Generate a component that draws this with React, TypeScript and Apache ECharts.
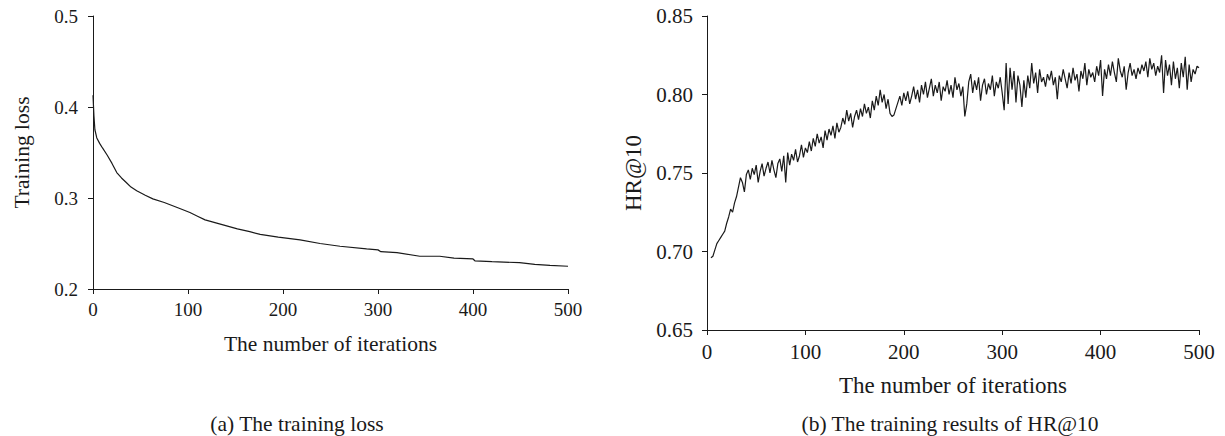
import React, { useEffect, useRef } from "react";
import * as echarts from "echarts";

// ---- Data ----
const xTicks = [0, 100, 200, 300, 400, 500];

// (a) training loss, read at selected iterations
const lossIter = [0, 1, 2, 4, 7, 10, 15, 20, 25, 30, 35, 40, 46, 55, 63, 75, 90, 102, 110, 118, 135, 152, 165, 176, 195, 218, 239, 260, 288, 300, 303, 320, 344, 365, 380, 400, 402, 420, 449, 465, 481, 500];
const lossValue = [0.413, 0.39, 0.375, 0.366, 0.36, 0.355, 0.347, 0.338, 0.328, 0.322, 0.317, 0.312, 0.308, 0.303, 0.299, 0.295, 0.289, 0.284, 0.28, 0.276, 0.271, 0.266, 0.263, 0.26, 0.257, 0.254, 0.25, 0.247, 0.244, 0.243, 0.241, 0.24, 0.236, 0.236, 0.234, 0.233, 0.231, 0.23, 0.229, 0.227, 0.226, 0.225];

// (b) HR@10, one value every 2 iterations starting at iteration 4
const hrStartIter = 4;
const hrStepIter = 2;
const hrValue = [
  0.696, 0.697, 0.701, 0.705, 0.707, 0.709, 0.711, 0.713, 0.718, 0.722,
  0.727, 0.725, 0.731, 0.735, 0.741, 0.747, 0.744, 0.738, 0.749, 0.752,
  0.746, 0.753, 0.749, 0.755, 0.744, 0.751, 0.756, 0.748, 0.753, 0.757,
  0.750, 0.758, 0.752, 0.747, 0.756, 0.759, 0.751, 0.761, 0.744, 0.763,
  0.755, 0.762, 0.758, 0.765, 0.757, 0.761, 0.768, 0.760, 0.766, 0.763,
  0.770, 0.764, 0.772, 0.767, 0.775, 0.769, 0.773, 0.766, 0.777, 0.771,
  0.778, 0.774, 0.780, 0.772, 0.782, 0.776, 0.779, 0.785, 0.781, 0.790,
  0.783, 0.788, 0.779, 0.786, 0.790, 0.784, 0.791, 0.786, 0.794, 0.788,
  0.792, 0.785, 0.796, 0.790, 0.799, 0.793, 0.803, 0.795, 0.800, 0.791,
  0.797, 0.788, 0.786, 0.787, 0.791, 0.795, 0.799, 0.793, 0.801, 0.796,
  0.802, 0.794, 0.799, 0.805, 0.797, 0.803, 0.795, 0.806, 0.800, 0.808,
  0.798, 0.804, 0.810, 0.799, 0.806, 0.801, 0.808, 0.796, 0.805, 0.802,
  0.809, 0.800, 0.806, 0.798, 0.811, 0.803, 0.807, 0.799, 0.805, 0.786,
  0.794, 0.808, 0.813, 0.801, 0.809, 0.803, 0.811, 0.796, 0.806, 0.810,
  0.800, 0.807, 0.803, 0.812, 0.799, 0.808, 0.804, 0.811, 0.801, 0.790,
  0.820, 0.794, 0.817, 0.803, 0.815, 0.795, 0.812, 0.806, 0.792, 0.809,
  0.798, 0.812, 0.804, 0.820, 0.807, 0.814, 0.801, 0.816, 0.808, 0.811,
  0.805, 0.813, 0.809, 0.815, 0.806, 0.811, 0.797, 0.812, 0.808, 0.816,
  0.810, 0.804, 0.814, 0.807, 0.817, 0.809, 0.813, 0.802, 0.815, 0.810,
  0.820, 0.806, 0.816, 0.811, 0.814, 0.808, 0.818, 0.812, 0.822, 0.799,
  0.816, 0.810, 0.819, 0.812, 0.821, 0.814, 0.808, 0.823, 0.815, 0.811,
  0.818, 0.803, 0.814, 0.820, 0.812, 0.816, 0.810, 0.817, 0.813, 0.819,
  0.815, 0.821, 0.811, 0.823, 0.816, 0.820, 0.812, 0.818, 0.814, 0.825,
  0.801, 0.822, 0.812, 0.819, 0.806, 0.821, 0.810, 0.817, 0.804, 0.820,
  0.811, 0.824, 0.803, 0.819, 0.808, 0.816, 0.813, 0.818, 0.817,
];

const xTitle = "The number of iterations";
const yTitleA = "Training loss";
const yTitleB = "HR@10";
const captionA = "(a) The training loss";
const captionB = "(b) The training results of HR@10";

const FONT = "'Liberation Serif', 'Times New Roman', serif";
const INK = "#1a1a1a";

function axisBase(fontSize: number) {
  return {
    axisLine: { show: true, onZero: false, lineStyle: { color: INK, width: 1 } },
    axisTick: { show: true, inside: false, length: 5, lineStyle: { color: INK, width: 1 } },
    splitLine: { show: false },
    axisLabel: { color: INK, fontFamily: FONT, fontSize },
    nameTextStyle: { color: INK, fontFamily: FONT },
  };
}

export default function App() {
  const ref = useRef<HTMLDivElement>(null);

  useEffect(() => {
    if (!ref.current) return;
    const chart = echarts.init(ref.current, undefined, { renderer: "svg" });

    const lossData = lossIter.map((x, i) => [x, lossValue[i]]);
    const hrData = hrValue.map((v, i) => [hrStartIter + i * hrStepIter, v]);

    const a = axisBase(19);
    const b = axisBase(21);

    chart.setOption({
      animation: false,
      backgroundColor: "#ffffff",
      grid: [
        { left: 93, top: 16, width: 475, height: 273, containLabel: false },
        { left: 707, top: 16, width: 492, height: 314, containLabel: false },
      ],
      xAxis: [
        {
          ...a,
          type: "value",
          gridIndex: 0,
          min: xTicks[0],
          max: xTicks[xTicks.length - 1],
          interval: 100,
          axisLabel: { ...a.axisLabel, margin: 11 },
          name: xTitle,
          nameLocation: "middle",
          nameGap: 44,
          nameTextStyle: { ...a.nameTextStyle, fontSize: 21.5 },
        },
        {
          ...b,
          type: "value",
          gridIndex: 1,
          min: xTicks[0],
          max: xTicks[xTicks.length - 1],
          interval: 100,
          axisLabel: { ...b.axisLabel, margin: 11 },
          name: xTitle,
          nameLocation: "middle",
          nameGap: 44,
          nameTextStyle: { ...b.nameTextStyle, fontSize: 23 },
        },
      ],
      yAxis: [
        {
          ...a,
          type: "value",
          gridIndex: 0,
          min: 0.2,
          max: 0.5,
          interval: 0.1,
          axisLabel: { ...a.axisLabel, margin: 15, formatter: (v: number) => v.toFixed(1) },
          name: yTitleA,
          nameLocation: "middle",
          nameGap: 60,
          nameTextStyle: { ...a.nameTextStyle, fontSize: 21.5 },
        },
        {
          ...b,
          type: "value",
          gridIndex: 1,
          min: 0.65,
          max: 0.85,
          interval: 0.05,
          axisLabel: { ...b.axisLabel, margin: 14, formatter: (v: number) => v.toFixed(2) },
          name: yTitleB,
          nameLocation: "middle",
          nameGap: 62,
          nameTextStyle: { ...b.nameTextStyle, fontSize: 23 },
        },
      ],
      series: [
        {
          type: "line",
          xAxisIndex: 0,
          yAxisIndex: 0,
          data: lossData,
          showSymbol: false,
          symbol: "none",
          lineStyle: { color: INK, width: 1.2 },
        },
        {
          type: "line",
          xAxisIndex: 1,
          yAxisIndex: 1,
          data: hrData,
          showSymbol: false,
          symbol: "none",
          lineStyle: { color: INK, width: 1.2 },
        },
      ],
      graphic: [
        {
          type: "text",
          x: 297,
          y: 424,
          style: {
            text: captionA,
            fill: INK,
            font: `21.5px ${FONT}`,
            textAlign: "center",
            textVerticalAlign: "middle",
          },
        },
        {
          type: "text",
          x: 950,
          y: 424,
          style: {
            text: captionB,
            fill: INK,
            font: `21.5px ${FONT}`,
            textAlign: "center",
            textVerticalAlign: "middle",
          },
        },
      ],
    });

    return () => chart.dispose();
  }, []);

  return (
    <div
      ref={ref}
      style={{ position: "absolute", left: 0, top: 0, width: 1225, height: 436, background: "#fff" }}
    />
  );
}
